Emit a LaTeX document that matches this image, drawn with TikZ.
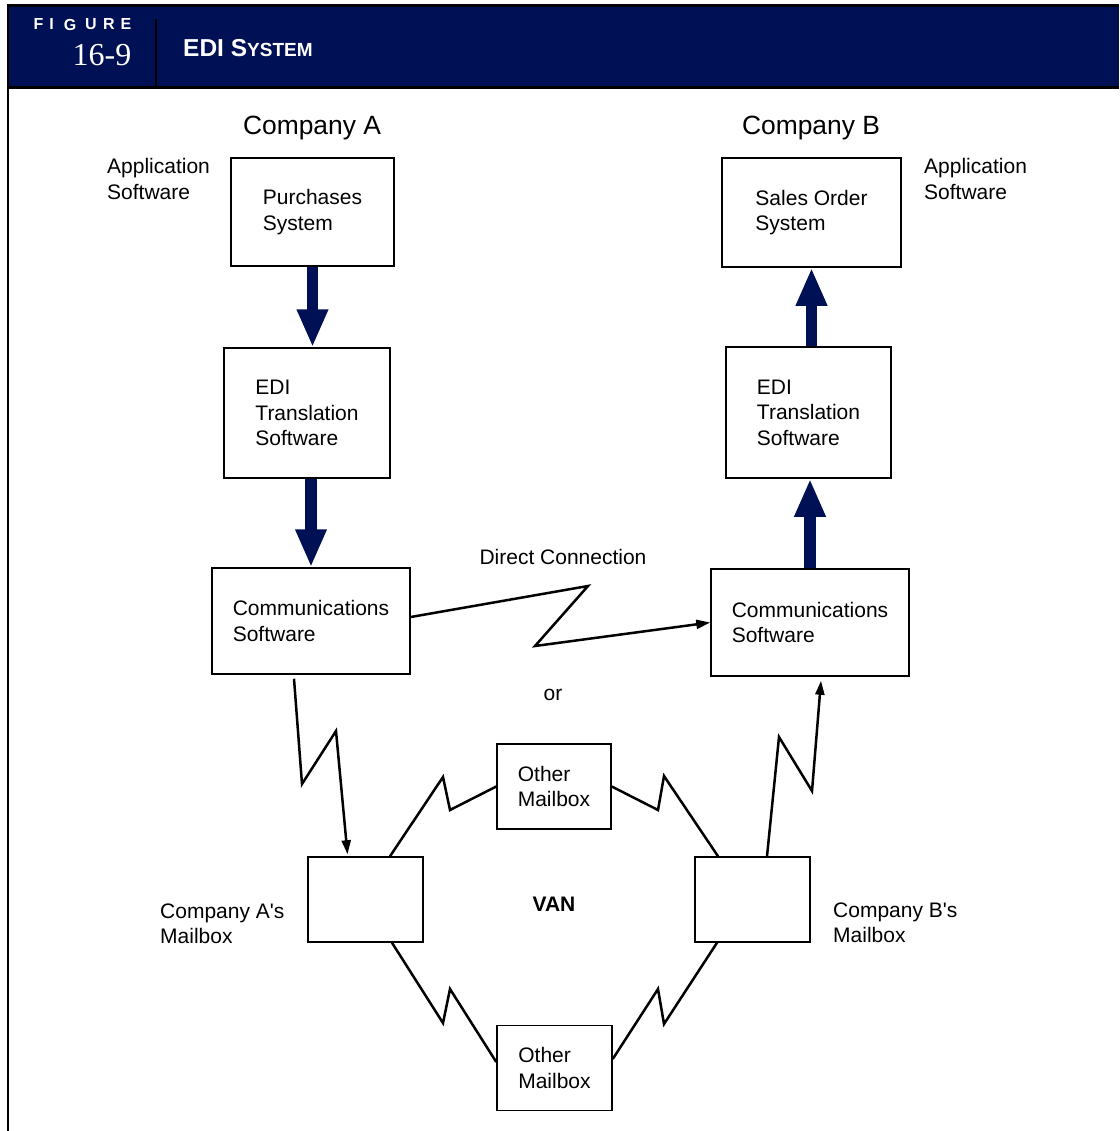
\documentclass[tikz,border=0pt]{standalone}
\usepackage{fontspec}
\setmainfont{Liberation Sans}
\newfontfamily\numfont{Liberation Serif}
\usetikzlibrary{arrows.meta, calc}
\definecolor{edinavy}{RGB}{0,16,84}

\begin{document}
\begin{tikzpicture}[x=1pt, y=-1pt,
    box/.style={draw, line width=1.5pt, align=left, font=\fontsize{21}{25.5}\selectfont},
    txt/.style={align=left, font=\fontsize{21}{25.5}\selectfont},
    company/.style={font=\fontsize{26.4}{30}\selectfont},
    figletter/.style={white, inner sep=0pt, font=\bfseries\fontsize{16}{16}\selectfont},
    bigarrow/.style={edinavy, line width=11.5pt, -{Triangle[length=38pt,width=29pt]}},
    zig/.style={line width=2.5pt, miter limit=20},
    zigarrow/.style={zig, -{Triangle[length=14pt,width=9pt]}}]
  \useasboundingbox (0,0) rectangle (1119,1131);

  \fill[edinavy] (8,5) rectangle (1119,88);
  \draw[line width=2.5pt] (1119,5.5) -- (8,5.5) -- (8,1131);
  \draw[line width=2.5pt] (8,87.5) -- (1119,87.5);
  \draw[line width=2.5pt] (156,19) -- (156,88);
  \foreach \ch/\xx in {F/38.5, I/51.5, G/70, U/91, R/109, E/126}
    \node[figletter] (fig\ch) at (\xx,24.5) {\ch};
  \node[white, inner sep=0pt, font=\numfont\fontsize{32}{32}\selectfont] (fignum) at (102,55) {16-9};
  \node[white, inner sep=0pt, anchor=west, font=\bfseries\fontsize{24.5}{25}\selectfont] (figtitle) at (183,48.5)
    {EDI S{\fontsize{19}{19}\selectfont YSTEM}};

  \node[company] (coA) at (312,128) {Company A};
  \node[company] (coB) at (811,128) {Company B};
  \node[txt, anchor=west, inner sep=0pt] (appA) at (107,179) {Application\\Software};
  \node[txt, anchor=west, inner sep=0pt] (appB) at (924,179) {Application\\Software};

  \node[box, minimum width=163pt, minimum height=108pt] (purch) at (312.5,212) {Purchases\\System};
  \node[box, minimum width=166pt, minimum height=130pt] (ediA) at (307,413) {EDI\\Translation\\Software};
  \node[box, minimum width=198pt, minimum height=106pt] (commA) at (311,621) {Communications\\Software};
  \node[box, minimum width=179pt, minimum height=109pt] (sales) at (811.5,212.5) {Sales Order\\System};
  \node[box, minimum width=165pt, minimum height=131pt] (ediB) at (808.5,412.5) {EDI\\Translation\\Software};
  \node[box, minimum width=198pt, minimum height=107pt] (commB) at (810,622.5) {Communications\\Software};

  \node[box, minimum width=114pt, minimum height=85pt] (otherT) at (554,786.5) {Other\\Mailbox};
  \node[box, minimum width=115pt, minimum height=85pt] (mailA) at (365.5,899.5) {};
  \node[box, minimum width=115pt, minimum height=85pt] (mailB) at (752.5,899.5) {};
  \node[box, minimum width=115pt, minimum height=85pt] (otherB) at (554.5,1068) {Other\\Mailbox};

  \node[txt] (direct) at (563,557) {Direct Connection};
  \node[txt] (or) at (553,695) {or};
  \node[txt, font=\bfseries\fontsize{21}{25.5}\selectfont] (van) at (554,904) {VAN};
  \node[txt, anchor=west, inner sep=0pt] (mailAlbl) at (160,924) {Company A\textquotesingle s\\Mailbox};
  \node[txt, anchor=west, inner sep=0pt] (mailBlbl) at (833,923) {Company B\textquotesingle s\\Mailbox};

  \draw[bigarrow] (purch.south) -- (purch.south |- ediA.north);
  \draw[bigarrow] (commA.north |- ediA.south) -- (commA.north);
  \draw[bigarrow] (commB.north) -- (commB.north |- ediB.south);
  \draw[bigarrow] (sales.south |- ediB.north) -- (sales.south);

  \draw[zigarrow] ($(commA.east)+(0,-4)$) -- (588,586) -- (535,646) -- (commB.west);
  \draw[zigarrow] ($(commA.south)+(-17,4)$) -- (302,784) -- (336,731) -- ($(mailA.north)+(-18,-2)$);
  \draw[zig] ($(mailA.north)+(24.5,0)$) -- (443,777) -- (450,810) -- (otherT.west);
  \draw[zig] (otherT.east) -- (658,810) -- (664,776) -- ($(mailB.north)+(-34.5,0)$);
  \draw[zigarrow] ($(mailB.north)+(14.5,0)$) -- (779,737) -- (812,791) -- ($(commB.south)+(11,4)$);
  \draw[zig] ($(mailA.south)+(26.5,0)$) -- (443,1023) -- (450,989) -- ($(otherB.west)+(0,-6)$);
  \draw[zig] ($(otherB.east)+(0,-9)$) -- (658,989) -- (664,1024) -- ($(mailB.south)+(-35.5,0)$);
\end{tikzpicture}
\end{document}
